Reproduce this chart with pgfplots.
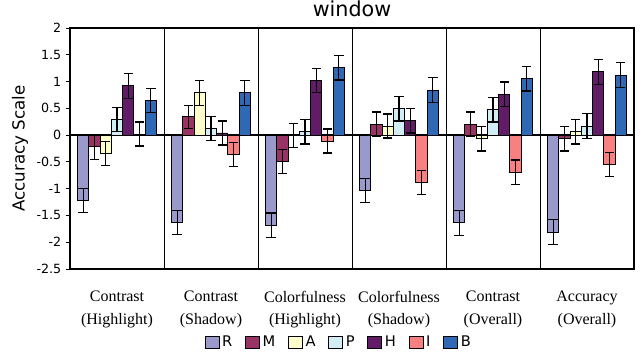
\documentclass[border=0pt]{standalone}
\usepackage{fontspec}
\setmainfont{Liberation Serif}
\newfontfamily\dejavu{DejaVu Sans}
\usepackage{pgfplots}
\pgfplotsset{compat=1.18}
\definecolor{cR}{HTML}{9999CC}
\definecolor{cM}{HTML}{993366}
\definecolor{cA}{HTML}{FFFFCC}
\definecolor{cP}{HTML}{D2EEF4}
\definecolor{cH}{HTML}{621B66}
\definecolor{cI}{HTML}{F88080}
\definecolor{cB}{HTML}{2F68B4}
\begin{document}
\begin{tikzpicture}
\begin{axis}[
  scale only axis,
  width=423pt, height=180.75pt,
  xmin=-0.5, xmax=5.5,
  ymin=-2.5, ymax=2,
  ybar=0pt, bar width=0.12,
  xtick={0,1,2,3,4,5},
  xticklabels={{Contrast\\(Highlight)},{Contrast\\(Shadow)},{Colorfulness\\(Highlight)},{Colorfulness\\(Shadow)},{Contrast\\(Overall)},{Accuracy\\(Overall)}},
  xticklabel style={align=center, font=\fontsize{12}{17}\selectfont, anchor=north, yshift=-10pt},
  x tick style={draw=none},
  ytick={-2.5,-2,-1.5,-1,-0.5,0,0.5,1,1.5,2},
  yticklabels={-2.5,-2,-1.5,-1,-0.5,0,0.5,1,1.5,2},
  yticklabel style={font=\dejavu\fontsize{9.5}{10}\selectfont},
  y tick style={black, line width=0.6pt},
  tick align=outside, major tick length=3pt,
  ytick pos=left,
  axis line style={black, line width=0.8pt},
  extra x ticks={0.5,1.5,2.5,3.5,4.5},
  extra x tick labels={},
  extra x tick style={grid=major, major grid style={black, line width=0.7pt}, tick style={draw=none}},
  extra y ticks={0},
  extra y tick labels={},
  extra y tick style={grid=major, major grid style={black, line width=1.1pt}},
  title={window},
  title style={font=\dejavu\fontsize{15.5}{17}\selectfont, at={(axis description cs:0.5,1)}, anchor=base, yshift=2.5pt},
  ylabel={Accuracy Scale},
  ylabel style={font=\dejavu\fontsize{12.5}{14}\selectfont, at={(axis description cs:-0.0887,0.5)}, anchor=center},
  legend columns=-1,
  legend style={at={(axis description cs:0.477,-0.303)}, anchor=center, draw=none, fill=none,
    font=\dejavu\fontsize{11}{13}\selectfont,
    /tikz/every even column/.append style={column sep=7.5pt}},
  legend image code/.code={\draw[#1, draw=black, line width=0.7pt] (0pt,-4.5pt) rectangle (10.5pt,4.5pt);},
  every axis plot/.append style={draw=black, line width=0.7pt},
  error bars/y dir=both, error bars/y explicit,
  error bars/error bar style={black, line width=0.9pt},
  error bars/error mark options={rotate=90, black, mark size=3.5pt, line width=0.9pt},
]
\addplot[fill=cR] coordinates {(0,-1.22)+-(0,0.225) (1,-1.63)+-(0,0.225) (2,-1.68)+-(0,0.225) (3,-1.03)+-(0,0.225) (4,-1.64)+-(0,0.23) (5,-1.81)+-(0,0.23)};
\addplot[fill=cM] coordinates {(0,-0.22)+-(0,0.23) (1,0.34)+-(0,0.22) (2,-0.49)+-(0,0.22) (3,0.20)+-(0,0.23) (4,0.20)+-(0,0.23) (5,-0.07)+-(0,0.225)};
\addplot[fill=cA] coordinates {(0,-0.34)+-(0,0.225) (1,0.79)+-(0,0.23) (2,-0.01)+-(0,0.225) (3,0.17)+-(0,0.225) (4,-0.07)+-(0,0.225) (5,0.06)+-(0,0.225)};
\addplot[fill=cP] coordinates {(0,0.29)+-(0,0.22) (1,0.13)+-(0,0.225) (2,0.06)+-(0,0.225) (3,0.49)+-(0,0.225) (4,0.47)+-(0,0.225) (5,0.17)+-(0,0.23)};
\addplot[fill=cH] coordinates {(0,0.92)+-(0,0.23) (1,0.04)+-(0,0.225) (2,1.02)+-(0,0.23) (3,0.27)+-(0,0.23) (4,0.76)+-(0,0.23) (5,1.18)+-(0,0.23)};
\addplot[fill=cI] coordinates {(0,0.02)+-(0,0.225) (1,-0.36)+-(0,0.225) (2,-0.11)+-(0,0.225) (3,-0.88)+-(0,0.225) (4,-0.69)+-(0,0.225) (5,-0.55)+-(0,0.225)};
\addplot[fill=cB] coordinates {(0,0.65)+-(0,0.225) (1,0.79)+-(0,0.23) (2,1.26)+-(0,0.23) (3,0.84)+-(0,0.23) (4,1.05)+-(0,0.225) (5,1.12)+-(0,0.23)};
\legend{R,M,A,P,H,I,B}
\end{axis}
\pgfresetboundingbox
\path (-52.5pt,-63.75pt) rectangle (427.5pt,201.75pt);
\end{tikzpicture}
\end{document}
